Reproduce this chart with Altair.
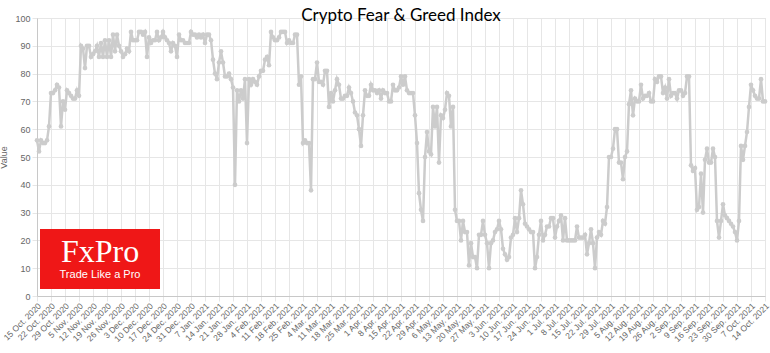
import altair as alt
import pandas as pd

title_text = "Crypto Fear & Greed Index"
start_date = "2020-10-15"
end_date = "2021-10-14"

# daily index values, 15 Oct 2020 .. 14 Oct 2021 (one row per week)
values = [
    56, 52, 56, 55, 55, 56, 61,
    73, 73, 74, 76, 75, 61, 70,
    67, 74, 73, 72, 71, 71, 74,
    72, 90, 89, 82, 90, 90, 86,
    87, 88, 90, 86, 91, 86, 92,
    86, 92, 86, 94, 88, 94, 90,
    88, 86, 87, 89, 88, 95, 92,
    92, 92, 95, 95, 94, 95, 86,
    93, 91, 92, 92, 95, 92, 93,
    95, 93, 92, 91, 88, 91, 90,
    86, 94, 92, 92, 91, 91, 91,
    95, 94, 94, 93, 94, 93, 94,
    91, 94, 94, 92, 85, 80, 78,
    84, 88, 84, 79, 79, 80, 78,
    75, 40, 74, 70, 74, 71, 78,
    55, 78, 76, 78, 77, 76, 79,
    81, 81, 85, 86, 83, 95, 93,
    92, 92, 93, 95, 95, 95, 91,
    92, 91, 91, 94, 94, 76, 79,
    55, 56, 55, 55, 38, 78, 78,
    84, 77, 77, 76, 81, 81, 68,
    73, 70, 74, 78, 76, 71, 71,
    72, 72, 75, 73, 70, 66, 65,
    60, 54, 65, 74, 72, 72, 76,
    74, 74, 73, 74, 71, 74, 73,
    73, 70, 70, 76, 74, 74, 75,
    79, 76, 79, 74, 73, 73, 73,
    65, 55, 37, 31, 27, 50, 59,
    52, 51, 68, 61, 68, 48, 65,
    64, 67, 73, 72, 61, 68, 31,
    27, 27, 20, 27, 23, 23, 11,
    19, 14, 14, 10, 22, 22, 27,
    22, 19, 10, 19, 20, 23, 24,
    27, 24, 17, 15, 13, 14, 21,
    22, 28, 23, 28, 38, 33, 26,
    25, 24, 23, 23, 10, 14, 22,
    27, 20, 22, 25, 25, 28, 28,
    21, 25, 27, 29, 20, 28, 20,
    20, 20, 20, 20, 25, 21, 21,
    21, 22, 15, 19, 24, 19, 10,
    21, 23, 22, 27, 26, 32, 50,
    50, 53, 60, 60, 48, 48, 42,
    50, 52, 69, 74, 65, 71, 70,
    70, 76, 71, 72, 72, 73, 70,
    70, 78, 77, 79, 79, 73, 75,
    71, 78, 72, 73, 73, 71, 74,
    74, 72, 73, 79, 79, 47, 45,
    46, 31, 32, 44, 30, 49, 53,
    48, 48, 53, 50, 27, 21, 27,
    33, 29, 28, 27, 26, 25, 23,
    20, 27, 54, 49, 54, 59, 68,
    76, 74, 72, 71, 71, 78, 70,
    70,
]

dates = pd.date_range(start_date, periods=len(values), freq="D")
df = pd.DataFrame({"date": dates.strftime("%Y-%m-%d"), "value": values})

tick_dates = pd.date_range(start_date, end_date, freq="7D")
tick_values = [alt.DateTime(year=d.year, month=d.month, date=d.day, utc=True) for d in tick_dates]
y_ticks = list(range(0, 101, 10))

logo_word = "FxPro"
logo_slogan = "Trade Like a Pro"

LINE = "#cccccc"
GRID = "#e6e6e6"
LAB = "#666666"

x_enc = alt.X(
    "date:T",
    scale=alt.Scale(type="utc", domain=[tick_values[0], tick_values[-1]], nice=False),
    axis=alt.Axis(
        values=tick_values,
        labelExpr="utcFormat(datum.value, '%-d %b. %Y')",
        labelAngle=-45,
        labelAlign="right",
        labelBaseline="middle",
        labelPadding=3,
        labelOffset=2,
        labelFontSize=8.5,
        labelColor=LAB,
        labelFont="Liberation Sans",
        title=None,
        grid=True,
        gridColor=GRID,
        tickColor=GRID,
        tickSize=5,
        domainColor="#c8c8c8",
        labelOverlap=False,
    ),
)
y_enc = alt.Y(
    "value:Q",
    scale=alt.Scale(domain=[0, 100], nice=False),
    axis=alt.Axis(
        values=y_ticks,
        title="Value",
        titleFontWeight="normal",
        titleFontSize=9,
        titleColor=LAB,
        titleFont="Liberation Sans",
        titlePadding=6,
        labelFontSize=9,
        labelColor=LAB,
        labelFont="Liberation Sans",
        labelPadding=2,
        grid=True,
        gridColor=GRID,
        tickColor=GRID,
        tickSize=5,
        domainColor="#c8c8c8",
    ),
)

line = alt.Chart(df).mark_line(
    color=LINE, strokeWidth=2.5,
    point=alt.OverlayMarkDef(color=LINE, size=22, filled=True, opacity=1),
).encode(x=x_enc, y=y_enc)

logo_df = pd.DataFrame({"w": [logo_word], "s": [logo_slogan]})
logo_box = alt.Chart(logo_df).mark_rect(color="#ef1717").encode(
    x=alt.value(3), x2=alt.value(123), y=alt.value(211), y2=alt.value(271)
)
logo_word_mark = alt.Chart(logo_df).mark_text(
    color="white", font="Liberation Serif", fontSize=32, align="center", baseline="alphabetic"
).encode(x=alt.value(63), y=alt.value(244), text="w:N")
logo_slogan_mark = alt.Chart(logo_df).mark_text(
    color="white", font="Liberation Sans", fontSize=11, align="center", baseline="alphabetic"
).encode(x=alt.value(63), y=alt.value(260), text="s:N")

chart = alt.layer(line, logo_box, logo_word_mark, logo_slogan_mark).properties(
    width=728,
    height=278,
    title=alt.TitleParams(
        text=title_text, font="Lato", fontSize=17, fontWeight="normal",
        color="#000000", anchor="middle", offset=-11,
    ),
    autosize=alt.AutoSizeParams(type="none"),
    padding={"left": 37, "top": 18, "right": 5, "bottom": 57},
).configure_view(stroke=None).configure(background="white")

chart.save("out.html", embed_options={"renderer": "svg", "actions": False})
